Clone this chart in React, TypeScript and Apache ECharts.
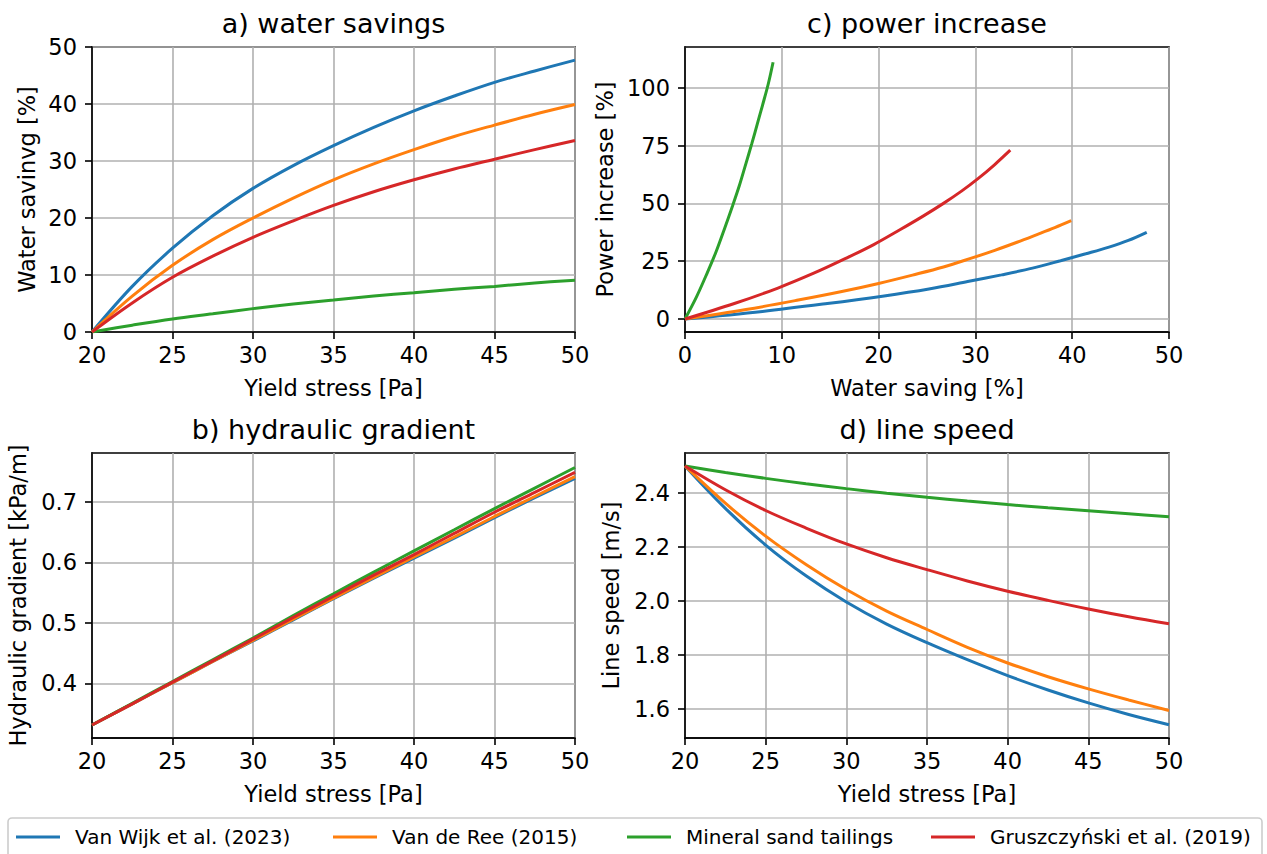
import React, { useEffect, useRef } from "react";
import * as echarts from "echarts";

// ---- data ----
const NAMES = [
  "Van Wijk et al. (2023)",
  "Van de Ree (2015)",
  "Mineral sand tailings",
  "Gruszczyński et al. (2019)",
];
const COLORS = ["#1f77b4", "#ff7f0e", "#2ca02c", "#d62728"];

const YIELD_STRESS = [20, 22.5, 25, 27.5, 30, 32.5, 35, 37.5, 40, 42.5, 45, 47.5, 50];

// a) water savings [%]
const WS_VANWIJK = [0, 8.0, 14.7, 20.4, 25.2, 29.2, 32.7, 35.9, 38.8, 41.4, 43.8, 45.8, 47.7];
const WS_VANDEREE = [0, 6.3, 11.7, 16.2, 20.0, 23.5, 26.7, 29.5, 32.0, 34.3, 36.3, 38.2, 39.9];
const WS_MINERAL = [0, 1.2, 2.3, 3.2, 4.1, 4.9, 5.6, 6.3, 6.9, 7.5, 8.0, 8.6, 9.1];
const WS_GRUSZ = [0, 5.1, 9.6, 13.3, 16.6, 19.5, 22.2, 24.6, 26.7, 28.6, 30.3, 32.0, 33.6];

// c) power increase [%] (paired with the water savings above)
const PI_VANWIJK = [0, 3.3, 6.7, 9.9, 13.0, 16.2, 19.1, 22.0, 25.2, 28.2, 31.1, 34.0, 37.5];
const PI_VANDEREE = [0, 4.1, 8.2, 11.9, 15.4, 19.0, 22.5, 26.2, 29.7, 33.2, 36.4, 39.5, 42.5];
const PI_MINERAL = [0, 9.7, 20.0, 29.0, 39.3, 48.8, 57.5, 67.3, 75.8, 84.8, 92.3, 101.6, 111.0];
const PI_GRUSZ = [0, 6.7, 13.4, 19.8, 26.2, 32.2, 38.6, 44.5, 50.0, 55.4, 60.8, 66.8, 73.0];

// b) hydraulic gradient [kPa/m]
const HG_VANWIJK = [0.331, 0.366, 0.401, 0.436, 0.470, 0.505, 0.540, 0.574, 0.607, 0.640, 0.674, 0.707, 0.739];
const HG_VANDEREE = [0.331, 0.366, 0.401, 0.436, 0.471, 0.506, 0.541, 0.575, 0.609, 0.642, 0.676, 0.709, 0.742];
const HG_MINERAL = [0.331, 0.367, 0.403, 0.439, 0.475, 0.512, 0.548, 0.584, 0.619, 0.654, 0.689, 0.723, 0.757];
const HG_GRUSZ = [0.331, 0.366, 0.402, 0.437, 0.473, 0.509, 0.544, 0.579, 0.613, 0.648, 0.683, 0.716, 0.749];

// d) line speed [m/s]
const LS_VANWIJK = [2.5, 2.343, 2.207, 2.093, 1.996, 1.914, 1.845, 1.782, 1.723, 1.670, 1.622, 1.579, 1.541];
const LS_VANDEREE = [2.5, 2.362, 2.240, 2.135, 2.042, 1.962, 1.894, 1.828, 1.770, 1.719, 1.674, 1.633, 1.594];
const LS_MINERAL = [2.5, 2.476, 2.454, 2.434, 2.416, 2.399, 2.384, 2.370, 2.357, 2.345, 2.334, 2.323, 2.312];
const LS_GRUSZ = [2.5, 2.412, 2.335, 2.270, 2.211, 2.160, 2.116, 2.074, 2.036, 2.002, 1.970, 1.941, 1.915];

const C_TICKS = [0, 25, 50, 75, 100];
const B_TICKS = [0.4, 0.5, 0.6, 0.7];
const D_TICKS = [1.6, 1.8, 2.0, 2.2, 2.4];

const TITLES = ["a) water savings", "c) power increase", "b) hydraulic gradient", "d) line speed"];

const FONT = "DejaVu Sans";

export default function App() {
  const ref = useRef<HTMLDivElement>(null);
  useEffect(() => {
    if (!ref.current) return;
    const chart = echarts.init(ref.current, null, { renderer: "svg" });

    const grids = [
      { left: 92, top: 47, width: 483, height: 285 },
      { left: 685, top: 47, width: 484, height: 285 },
      { left: 92, top: 453, width: 483, height: 285 },
      { left: 685, top: 453, width: 484, height: 285 },
    ];

    const axisCommon = {
      type: "value",
      nameLocation: "middle",
      nameTextStyle: { fontSize: 22.5, color: "#000", fontFamily: FONT },
      axisLine: { show: true, onZero: false, lineStyle: { color: "#000", width: 1.6 } },
      axisLabel: { fontSize: 22.5, color: "#000", margin: 11, fontFamily: FONT },
      splitLine: { show: true, lineStyle: { color: "#b0b0b0", width: 1.6 } },
    };
    const yLabel = { ...axisCommon.axisLabel, margin: 15 };
    const tick = (custom?: number[]) => ({
      show: true,
      inside: false,
      length: 7,
      lineStyle: { color: "#000", width: 1.6 },
      ...(custom ? { customValues: custom } : {}),
    });

    const xAxis = [
      { ...axisCommon, gridIndex: 0, min: 20, max: 50, interval: 5, name: "Yield stress [Pa]", nameGap: 44, axisTick: tick() },
      { ...axisCommon, gridIndex: 1, min: 0, max: 50, interval: 10, name: "Water saving [%]", nameGap: 44, axisTick: tick() },
      { ...axisCommon, gridIndex: 2, min: 20, max: 50, interval: 5, name: "Yield stress [Pa]", nameGap: 44, axisTick: tick() },
      { ...axisCommon, gridIndex: 3, min: 20, max: 50, interval: 5, name: "Yield stress [Pa]", nameGap: 44, axisTick: tick() },
    ];
    const yAxis = [
      { ...axisCommon, gridIndex: 0, min: 0, max: 50, interval: 10, name: "Water savinvg [%]", nameGap: 54, axisTick: tick(), axisLabel: yLabel },
      {
        ...axisCommon, gridIndex: 1, min: -5.6, max: 117.6, name: "Power increase [%]", nameGap: 69,
        axisTick: tick(C_TICKS),
        axisLabel: { ...yLabel, customValues: C_TICKS },
      },
      {
        ...axisCommon, gridIndex: 2, min: 0.3095, max: 0.781, name: "Hydraulic gradient [kPa/m]", nameGap: 63,
        axisTick: tick(B_TICKS),
        axisLabel: { ...yLabel, customValues: B_TICKS, formatter: (v: number) => v.toFixed(1) },
      },
      {
        ...axisCommon, gridIndex: 3, min: 1.492, max: 2.548, name: "Line speed [m/s]", nameGap: 63,
        axisTick: tick(D_TICKS),
        axisLabel: { ...yLabel, customValues: D_TICKS, formatter: (v: number) => v.toFixed(1) },
      },
    ];

    const ws = [WS_VANWIJK, WS_VANDEREE, WS_MINERAL, WS_GRUSZ];
    const pi = [PI_VANWIJK, PI_VANDEREE, PI_MINERAL, PI_GRUSZ];
    const hg = [HG_VANWIJK, HG_VANDEREE, HG_MINERAL, HG_GRUSZ];
    const ls = [LS_VANWIJK, LS_VANDEREE, LS_MINERAL, LS_GRUSZ];

    const mk = (idx: number, data: number[][], k: number) => ({
      type: "line",
      name: NAMES[k],
      xAxisIndex: idx,
      yAxisIndex: idx,
      data,
      color: COLORS[k],
      showSymbol: false,
      symbol: "none",
      smooth: 0.35,
      lineStyle: { width: 3, color: COLORS[k] },
      z: 3 + k,
    });

    const series: any[] = [];
    for (let k = 0; k < 4; k++) series.push(mk(0, YIELD_STRESS.map((x, i) => [x, ws[k][i]]), k));
    for (let k = 0; k < 4; k++) series.push(mk(1, ws[k].map((x, i) => [x, pi[k][i]]), k));
    for (let k = 0; k < 4; k++) series.push(mk(2, YIELD_STRESS.map((x, i) => [x, hg[k][i]]), k));
    for (let k = 0; k < 4; k++) series.push(mk(3, YIELD_STRESS.map((x, i) => [x, ls[k][i]]), k));

    const titleTops = [10, 10, 416, 416];
    const title = TITLES.map((t, i) => ({
      text: t,
      left: grids[i].left + grids[i].width / 2,
      top: titleTops[i],
      textAlign: "center",
      padding: 0,
      textStyle: { fontSize: 27, fontWeight: "normal", color: "#000", fontFamily: FONT },
    }));

    const LEG_X = [16, 333, 627, 931];
    const legend = NAMES.map((n, i) => ({
      data: [n],
      left: LEG_X[i],
      top: 827,
      padding: 0,
      itemWidth: 44,
      itemHeight: 3,
      icon: "rect",
      selectedMode: false,
      textStyle: { fontSize: 20, color: "#000", fontFamily: FONT, padding: [0, 0, 0, 10] },
    }));

    chart.setOption({
      animation: false,
      textStyle: { fontFamily: FONT },
      title,
      legend,
      grid: grids.map((g) => ({ ...g, show: true, borderColor: "#000", borderWidth: 1.6 })),
      xAxis,
      yAxis,
      series,
      graphic: [
        {
          type: "rect",
          z: -10,
          shape: { x: 8, y: 818, width: 1254, height: 60, r: 4 },
          style: { fill: "#fff", stroke: "#cccccc", lineWidth: 1.6 },
        },
      ],
    });
    return () => chart.dispose();
  }, []);
  return (
    <div
      ref={ref}
      style={{ position: "fixed", left: 0, top: 0, width: 1267, height: 854, background: "#fff" }}
    />
  );
}
